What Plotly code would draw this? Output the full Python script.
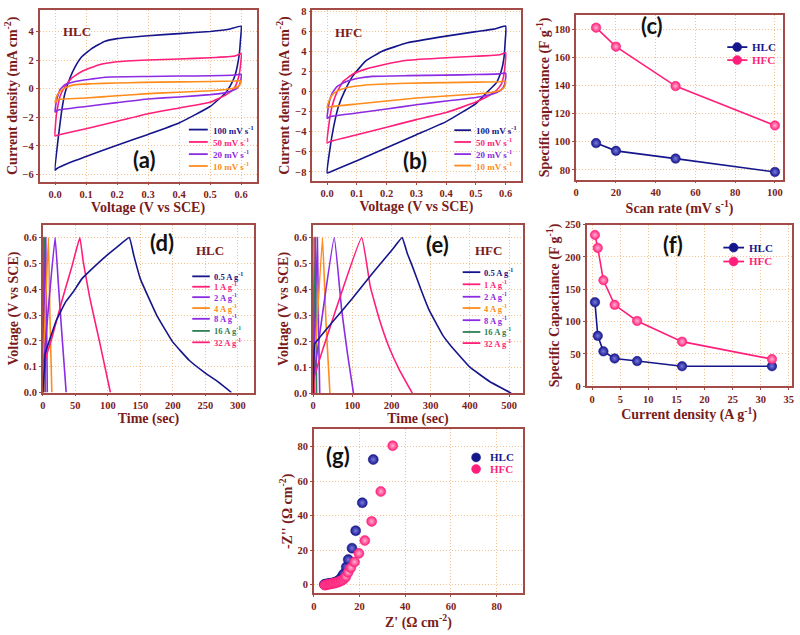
import plotly.graph_objects as go

# ---------------- colours / fonts ----------------
NAVY = "#16168c"; PINK = "#ff1f7a"; PURPLE = "#8b2be2"; ORANGE = "#ff8c1a"; GREEN = "#2f7f55"
FRAME = "#a34b47"; GRID = "#f3c28e"; TXT = "#7a1c1c"
SERIF = "Liberation Serif"; SANS = "Lato"

# ---------------- data ----------------
cv_labels = ["100 mV s<sup>-1</sup>", "50 mV s<sup>-1</sup>", "20 mV s<sup>-1</sup>", "10 mV s<sup>-1</sup>"]
cv_colors = [NAVY, PINK, PURPLE, ORANGE]

# (a) HLC cyclic voltammetry (V vs SCE, mA cm-2)
a_v100 = [0.0, 0.011, 0.022, 0.032, 0.048, 0.065, 0.086, 0.118, 0.161, 0.2, 0.3, 0.4, 0.5, 0.56, 0.6,
          0.598, 0.594, 0.588, 0.58, 0.57, 0.55, 0.5, 0.4, 0.3, 0.2, 0.1, 0.05, 0.005, 0.0]
a_i100 = [-5.7, -3.3, -1.45, -0.3, 0.74, 1.54, 2.23, 2.8, 3.31, 3.5, 3.7, 3.85, 4.0, 4.15, 4.37,
          3.4, 2.4, 1.6, 0.9, 0.4, -0.3, -1.25, -2.4, -3.2, -3.95, -4.75, -5.15, -5.6, -5.7]
a_v50 = [0.0, 0.005, 0.016, 0.032, 0.054, 0.086, 0.14, 0.2, 0.3, 0.4, 0.5, 0.58, 0.6,
         0.598, 0.592, 0.582, 0.57, 0.55, 0.5, 0.4, 0.3, 0.2, 0.1, 0.01, 0.0]
a_i50 = [-3.3, -1.68, -0.53, 0.16, 0.74, 1.2, 1.66, 1.88, 2.0, 2.07, 2.16, 2.28, 2.45,
         1.6, 0.8, 0.2, -0.15, -0.45, -0.95, -1.35, -1.75, -2.28, -2.8, -3.24, -3.3]
a_v20 = [0.0, 0.005, 0.016, 0.032, 0.065, 0.118, 0.161, 0.3, 0.4, 0.5, 0.58, 0.6,
         0.599, 0.594, 0.585, 0.57, 0.55, 0.5, 0.4, 0.3, 0.2, 0.1, 0.01, 0.0]
a_i20 = [-1.63, -0.76, -0.07, 0.28, 0.5, 0.67, 0.8, 0.85, 0.88, 0.9, 0.95, 1.0,
         0.6, 0.25, 0.0, -0.15, -0.28, -0.42, -0.58, -0.72, -0.98, -1.25, -1.5, -1.63]
a_v10 = [0.0, 0.005, 0.016, 0.032, 0.065, 0.118, 0.194, 0.28, 0.4, 0.5, 0.58, 0.6,
         0.598, 0.59, 0.575, 0.55, 0.5, 0.4, 0.3, 0.2, 0.1, 0.01, 0.0]
a_i10 = [-0.99, -0.53, -0.18, 0.05, 0.28, 0.34, 0.39, 0.44, 0.47, 0.5, 0.53, 0.56,
         0.35, 0.15, 0.02, -0.06, -0.15, -0.25, -0.35, -0.5, -0.65, -0.76, -0.99]

# (b) HFC cyclic voltammetry
b_v100 = [0.0, 0.009, 0.022, 0.038, 0.06, 0.087, 0.13, 0.185, 0.27, 0.4, 0.5, 0.56, 0.6,
          0.598, 0.594, 0.585, 0.57, 0.54, 0.5, 0.4, 0.3, 0.2, 0.1, 0.01, 0.0]
b_i100 = [-8.1, -5.8, -3.5, -1.5, 0.1, 1.57, 3.04, 4.0, 4.84, 5.5, 5.95, 6.2, 6.5,
          4.8, 3.3, 2.0, 0.9, 0.0, -1.2, -3.0, -4.3, -5.6, -6.9, -8.0, -8.1]
b_v50 = [0.0, 0.005, 0.016, 0.033, 0.054, 0.087, 0.13, 0.196, 0.27, 0.4, 0.5, 0.58, 0.6,
         0.598, 0.593, 0.585, 0.57, 0.55, 0.5, 0.4, 0.3, 0.2, 0.1, 0.01, 0.0]
b_i50 = [-5.13, -3.5, -1.54, -0.07, 1.0, 1.73, 2.22, 2.7, 3.1, 3.35, 3.5, 3.65, 3.85,
         2.6, 1.5, 0.7, 0.15, -0.3, -1.05, -2.1, -2.8, -3.55, -4.3, -4.97, -5.13]
b_v20 = [0.0, 0.005, 0.016, 0.033, 0.065, 0.109, 0.152, 0.27, 0.4, 0.5, 0.58, 0.6,
         0.599, 0.594, 0.585, 0.57, 0.55, 0.5, 0.4, 0.3, 0.2, 0.1, 0.01, 0.0]
b_i20 = [-2.68, -1.37, -0.23, 0.49, 1.0, 1.34, 1.5, 1.57, 1.62, 1.68, 1.75, 1.82,
         1.1, 0.5, 0.15, -0.1, -0.3, -0.6, -0.95, -1.32, -1.75, -2.15, -2.5, -2.68]
b_v10 = [0.0, 0.005, 0.016, 0.033, 0.065, 0.13, 0.27, 0.4, 0.5, 0.58, 0.6,
         0.598, 0.59, 0.575, 0.55, 0.5, 0.4, 0.3, 0.2, 0.1, 0.01, 0.0]
b_i10 = [-1.63, -1.05, -0.39, 0.03, 0.36, 0.65, 0.82, 0.88, 0.93, 0.97, 1.02,
         0.6, 0.25, 0.05, -0.1, -0.25, -0.45, -0.65, -0.95, -1.25, -1.53, -1.63]

# (c) specific capacitance vs scan rate
scan_rate = [10, 20, 50, 100]
c_hlc = [99, 93.5, 88, 78.5]
c_hfc = [181, 167.5, 139.5, 111.5]

# (d) HLC galvanostatic charge-discharge
gcd_labels = ["0.5 A g<sup>-1</sup>", "1 A g<sup>-1</sup>", "2 A g<sup>-1</sup>", "4 A g<sup>-1</sup>",
              "8 A g<sup>-1</sup>", "16 A g<sup>-1</sup>", "32 A g<sup>-1</sup>"]
gcd_colors = [NAVY, PINK, PURPLE, ORANGE, PURPLE, GREEN, PINK]
d_t05 = [0, 3, 3.6, 10, 21, 35, 47, 60, 72, 98, 115, 133, 140, 150, 175, 200, 225, 250, 270, 290]
d_v05 = [0, 0.1, 0.15, 0.2, 0.28, 0.35, 0.39, 0.44, 0.47, 0.53, 0.565, 0.6, 0.53, 0.44, 0.3, 0.195, 0.125, 0.075, 0.04, 0.0]
d_t1 = [0, 1, 15, 30, 45, 57, 62, 72, 87, 104]
d_v1 = [0, 0.1, 0.22, 0.36, 0.49, 0.6, 0.51, 0.37, 0.2, 0]
d_t2 = [0, 0.5, 19, 24, 29, 36]
d_v2 = [0, 0.08, 0.6, 0.42, 0.24, 0]
d_t4 = [0, 0.5, 8.7, 11, 14]
d_v4 = [0, 0.08, 0.6, 0.3, 0]
d_t8 = [0, 0.3, 4.6, 7]
d_v8 = [0, 0.08, 0.6, 0]
d_t16 = [0, 2.5, 4]
d_v16 = [0, 0.6, 0]
d_t32 = [0, 1, 2]
d_v32 = [0, 0.6, 0]

# (e) HFC galvanostatic charge-discharge
e_t05 = [0, 3, 4.3, 50, 100, 150, 200, 227, 240, 253, 275, 296, 330, 350, 400, 450, 505]
e_v05 = [0, 0.17, 0.19, 0.275, 0.365, 0.46, 0.55, 0.6, 0.54, 0.49, 0.4, 0.32, 0.225, 0.185, 0.1, 0.045, 0]
e_t1 = [0, 1, 124, 146, 170, 193, 220, 253]
e_v1 = [0, 0.05, 0.6, 0.41, 0.28, 0.18, 0.09, 0]
e_t2 = [0, 0.5, 54, 73, 88, 103]
e_v2 = [0, 0.04, 0.6, 0.32, 0.15, 0]
e_t4 = [0, 24, 33, 43]
e_v4 = [0, 0.6, 0.27, 0]
e_t8 = [0, 11, 14, 17]
e_v8 = [0, 0.6, 0.25, 0]
e_t16 = [0, 6, 9]
e_v16 = [0, 0.6, 0]
e_t32 = [0, 2.5, 4]
e_v32 = [0, 0.6, 0]

# (f) specific capacitance vs current density
cur_density = [0.5, 1, 2, 4, 8, 16, 32]
f_hlc = [130, 78, 54, 43, 39, 31, 31]
f_hfc = [234, 214, 164, 126, 101, 69, 42]

# (g) Nyquist plots
g_hlc_x = [4.6, 5.0, 5.5, 6.1, 6.8, 7.5, 8.2, 9.0, 9.7, 10.4, 11.2, 11.9, 12.5, 13.0, 14.2, 15.05, 16.7, 18.3, 21.2, 26.0]
g_hlc_y = [0.2, 0.3, 0.45, 0.6, 0.75, 0.9, 1.1, 1.3, 1.7, 2.1, 2.9, 3.8, 5.0, 6.2, 10.3, 14.6, 21.2, 31.3, 47.5, 72.5]
g_hfc_x = [4.8, 5.5, 6.2, 6.9, 7.6, 8.3, 9.0, 9.7, 10.4, 11.1, 11.9, 12.6, 13.3, 14.0, 15.0, 16.2, 17.8, 19.7, 22.3, 25.3, 29.3, 34.5]
g_hfc_y = [-0.2, 0.0, 0.2, 0.4, 0.6, 0.8, 1.0, 1.2, 1.5, 1.9, 2.3, 2.8, 3.6, 4.7, 7.2, 9.9, 13.2, 18.2, 25.6, 36.7, 54.0, 80.5]

# ---------------- figure ----------------
fig = go.Figure()


def line(x, y, color, n, w=1.6, smooth=0.35):
    fig.add_trace(go.Scatter(x=x, y=y, mode="lines",
                             line=dict(color=color, width=w, shape="spline", smoothing=smooth),
                             xaxis="x" + n, yaxis="y" + n, showlegend=False, hoverinfo="skip"))


def dots(x, y, color, light, n, size=9.5, with_line=True):
    fig.add_trace(go.Scatter(x=x, y=y, mode="lines+markers" if with_line else "markers",
                             line=dict(color=color, width=1.6),
                             marker=dict(size=size, color=color, line=dict(color=color, width=0.5),
                                         gradient=dict(type="radial", color=light)),
                             xaxis="x" + n, yaxis="y" + n, showlegend=False, hoverinfo="skip"))


for v, i, c in zip([a_v100, a_v50, a_v20, a_v10], [a_i100, a_i50, a_i20, a_i10], cv_colors):
    line(v, i, c, "")
for v, i, c in zip([b_v100, b_v50, b_v20, b_v10], [b_i100, b_i50, b_i20, b_i10], cv_colors):
    line(v, i, c, "2")
dots(scan_rate, c_hlc, NAVY, "#7a7ae0", "3")
dots(scan_rate, c_hfc, PINK, "#ffb3d1", "3")
d_ts = [d_t05, d_t1, d_t2, d_t4, d_t8, d_t16, d_t32]
d_vs = [d_v05, d_v1, d_v2, d_v4, d_v8, d_v16, d_v32]
for k in range(6, -1, -1):
    line(d_ts[k], d_vs[k], gcd_colors[k], "4", smooth=0.3)
e_ts = [e_t05, e_t1, e_t2, e_t4, e_t8, e_t16, e_t32]
e_vs = [e_v05, e_v1, e_v2, e_v4, e_v8, e_v16, e_v32]
for k in range(6, -1, -1):
    line(e_ts[k], e_vs[k], gcd_colors[k], "5", smooth=0.3)
dots(cur_density, f_hlc, NAVY, "#7a7ae0", "6")
dots(cur_density, f_hfc, PINK, "#ffb3d1", "6")
dots(g_hlc_x, g_hlc_y, NAVY, "#7a7ae0", "7", size=10, with_line=False)
dots(g_hfc_x, g_hfc_y, PINK, "#ffb3d1", "7", size=10, with_line=False)

tickfont = dict(family=SERIF, size=10.5, color=TXT, weight="bold")
titlefont = dict(family=SERIF, size=14, color=TXT, weight="bold")


def axis(domain, rng, dtick, title, anchor, fmt=None, standoff=2):
    d = dict(domain=domain, range=rng, dtick=dtick, tick0=0, anchor=anchor,
             showline=True, linecolor=FRAME, linewidth=1.5, mirror=True,
             ticks="outside", ticklen=2, tickcolor=FRAME,
             showgrid=True, gridcolor=GRID, griddash="1px,2px", gridwidth=1, zeroline=False,
             tickfont=tickfont, title=dict(text=title, font=titlefont, standoff=standoff))
    if fmt:
        d["tickformat"] = fmt
    return d


V_T = "Voltage (V vs SCE)"
CD_T = "Current density (mA cm<sup>-2</sup>)"
layout_axes = dict(
    xaxis=axis([0.046, 0.319], [-0.05, 0.65], 0.1, V_T, "y", ".1f"),
    yaxis=axis([0.717, 0.992], [-6.5, 5.5], 2, CD_T, "x"),
    xaxis2=axis([0.389, 0.651], [-0.05, 0.65], 0.1, V_T, "y2", ".1f"),
    yaxis2=axis([0.718, 0.992], [-8.9, 8.1], 2, CD_T, "x2"),
    xaxis3=axis([0.721, 0.981], [0, 104], 20, "Scan rate (mV s<sup>-1</sup>)", "y3"),
    yaxis3=axis([0.720, 0.984], [73, 190], 20, "Specific capacitance (F g<sup>-1</sup>)", "x3"),
    xaxis4=axis([0.050, 0.316], [0, 325], 50, "Time (sec)", "y4"),
    yaxis4=axis([0.379, 0.648], [0, 0.65], 0.1, V_T, "x4", ".1f"),
    xaxis5=axis([0.390, 0.654], [0, 535], 100, "Time (sec)", "y5"),
    yaxis5=axis([0.378, 0.648], [0, 0.65], 0.1, V_T, "x5", ".1f"),
    xaxis6=axis([0.734, 0.992], [-1, 35.5], 5, "Current density (A g<sup>-1</sup>)", "y6"),
    yaxis6=axis([0.389, 0.648], [0, 250], 50, "Specific Capacitance (F g<sup>-1</sup>)", "x6"),
    xaxis7=axis([0.391, 0.654], [0, 91.5], 20, "Z' (Ω cm<sup>-2</sup>)", "y7", standoff=0),
    yaxis7=axis([0.057, 0.320], [-5, 90], 20, "-Z'' (Ω cm<sup>-2</sup>)", "x7"),
)

annotations = []
shapes = []


def note(n, x, y, text, font, xanchor="center"):
    annotations.append(dict(xref=("x" + n + " domain"), yref=("y" + n + " domain"), x=x, y=y,
                            text=text, showarrow=False, font=font, xanchor=xanchor, yanchor="middle"))


panel_font = dict(family=SANS, size=22, color="#111111", weight="bold")
tag_font = dict(family=SERIF, size=13, color=TXT, weight="bold")
note("", 0.482, 0.126, "(a)", panel_font)
note("2", 0.495, 0.12, "(b)", panel_font)
note("3", 0.365, 0.935, "(c)", panel_font)
note("4", 0.563, 0.891, "(d)", panel_font)
note("5", 0.593, 0.885, "(e)", panel_font)
note("6", 0.423, 0.88, "(f)", panel_font)
note("7", 0.114, 0.839, "(g)", panel_font)
note("", 0.174, 0.874, "HLC", tag_font)
note("2", 0.176, 0.868, "HFC", tag_font)
note("4", 0.789, 0.844, "HLC", tag_font)
note("5", 0.834, 0.845, "HFC", tag_font)


def legend_rows(n, x0, x1, xt, ys, labels, colors, size=9, marker_x=None, marker_only=False):
    for y, lab, col in zip(ys, labels, colors):
        if not marker_only:
            shapes.append(dict(type="line", xref="x" + n + " domain", yref="y" + n + " domain",
                               x0=x0, x1=x1, y0=y, y1=y, line=dict(color=col, width=1.8)))
        if marker_x is not None:
            shapes.append(dict(type="circle", xref="x" + n + " domain", yref="y" + n + " domain",
                               xsizemode="pixel", ysizemode="pixel", xanchor=marker_x, yanchor=y,
                               x0=-4.5, x1=4.5, y0=-4.5, y1=4.5, fillcolor=col,
                               line=dict(color=col, width=0.5)))
        note(n, xt, y, lab, dict(family=SERIF, size=size, color=col, weight="bold"), xanchor="left")


legend_rows("", 0.688, 0.775, 0.79, [0.303, 0.231, 0.16, 0.091], cv_labels, cv_colors)
legend_rows("2", 0.682, 0.762, 0.775, [0.297, 0.228, 0.157, 0.090], cv_labels, cv_colors)
legend_rows("4", 0.707, 0.790, 0.80, [0.692, 0.630, 0.568, 0.503, 0.439, 0.367, 0.299], gcd_labels, gcd_colors, size=8.5)
legend_rows("5", 0.713, 0.797, 0.806, [0.718, 0.646, 0.572, 0.505, 0.433, 0.363, 0.297], gcd_labels, gcd_colors, size=8.5)
legend_rows("3", 0.731, 0.828, 0.84, [0.805, 0.726], ["HLC", "HFC"], [NAVY, PINK], size=11, marker_x=0.779)
legend_rows("6", 0.667, 0.768, 0.784, [0.858, 0.772], ["HLC", "HFC"], [NAVY, PINK], size=11, marker_x=0.717)
legend_rows("7", 0, 0, 0.835, [0.829, 0.758], ["HLC", "HFC"], [NAVY, PINK], size=11, marker_x=0.776, marker_only=True)

fig.update_layout(
    width=800, height=635, margin=dict(l=0, r=0, t=0, b=0),
    paper_bgcolor="white", plot_bgcolor="white", showlegend=False,
    annotations=annotations, shapes=shapes, **layout_axes)

fig.write_html("out.html", config={"displayModeBar": False},
               post_script="document.body.style.margin='0px';")
